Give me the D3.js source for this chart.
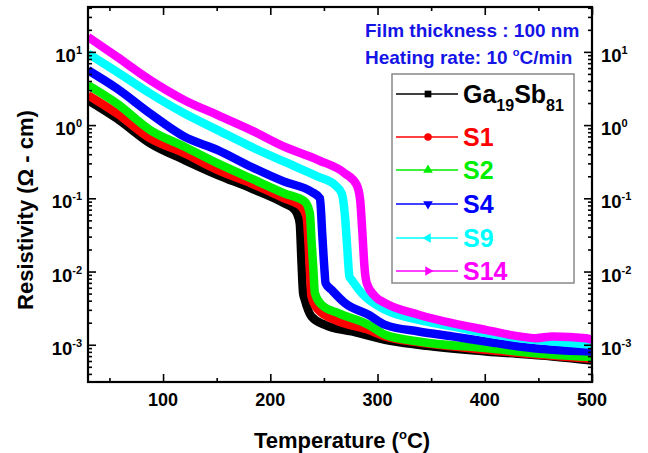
<!DOCTYPE html>
<html>
<head>
<meta charset="utf-8">
<script src="https://cdn.jsdelivr.net/npm/d3@7"></script>
<style>
  body { margin: 0; background: #fff; }
  svg { font-family: "Liberation Sans", Arial, sans-serif; font-weight: bold; }
</style>
</head>
<body>
<svg width="648" height="453"></svg>
<script>
// temperature (C) and resistivity (ohm-cm)
var tGa  = [30, 57, 88, 120, 151, 182, 213, 223, 226, 227.5, 229, 230.6, 232.2, 238.4, 250.9, 276, 307, 338, 401, 463, 500];
var rGa  = [2.19, 1.23, 0.562, 0.333, 0.208, 0.137, 0.0855, 0.0693, 0.0562, 0.045, 0.0145, 0.00507, 0.00411, 0.00243, 0.00187, 0.00152, 0.00117, 0.00100, 0.000811, 0.000693, 0.000611];

var tS1  = [30, 57, 88, 120, 151, 182, 213, 229, 233.8, 235.3, 237, 238.4, 244.7, 260.3, 291.6, 307, 338, 401, 463, 500];
var rS1  = [2.56, 1.44, 0.658, 0.411, 0.243, 0.160, 0.100, 0.0770, 0.0562, 0.030, 0.010, 0.00456, 0.00300, 0.00219, 0.00160, 0.00130, 0.00108, 0.000855, 0.000708, 0.000644];

var tS2  = [30, 57, 88, 120, 151, 182, 213, 232.2, 236.9, 238.4, 240, 241.6, 247.8, 263.4, 291.6, 307.2, 338.4, 400.9, 463.4, 500];
var rS2  = [3.51, 1.97, 0.855, 0.507, 0.300, 0.187, 0.117, 0.0901, 0.0624, 0.027, 0.0117, 0.00507, 0.00351, 0.00270, 0.00187, 0.00137, 0.00111, 0.000901, 0.000731, 0.000679];

var tS4  = [30, 57, 88, 120, 151, 182, 213, 238.4, 246.3, 248.4, 250.3, 251.6, 257.2, 269.7, 291.6, 307.2, 338.4, 369.7, 400.9, 432.2, 463.4, 500];
var rS4  = [5.62, 3.16, 1.44, 0.693, 0.456, 0.270, 0.169, 0.123, 0.100, 0.0333, 0.0117, 0.00693, 0.00562, 0.00370, 0.00257, 0.00187, 0.00152, 0.00130, 0.00111, 0.000949, 0.000855, 0.000811];

var tS9  = [30, 57, 88, 120, 151, 182, 213, 244.7, 260.3, 266.6, 269.7, 271.9, 273.8, 275.9, 285.3, 307.2, 338.4, 369.7, 400.9, 432.2, 463.4, 500];
var rS9  = [9.49, 5.34, 2.70, 1.44, 0.855, 0.507, 0.316, 0.197, 0.152, 0.117, 0.0562, 0.0197, 0.00855, 0.0077, 0.00507, 0.00300, 0.00219, 0.00178, 0.00144, 0.00123, 0.00111, 0.00100];

var tS14 = [30, 57, 88, 120, 151, 182, 213, 244.7, 269.7, 280.6, 283.8, 285.9, 287.8, 290, 297.8, 307.2, 338.4, 369.7, 400.9, 432.2, 447.8, 463.4, 494.7, 500];
var rS14 = [16.0, 8.55, 4.11, 2.19, 1.37, 0.855, 0.507, 0.333, 0.219, 0.152, 0.0949, 0.0333, 0.0117, 0.00693, 0.00456, 0.00370, 0.00257, 0.00197, 0.00160, 0.00130, 0.00123, 0.00130, 0.00123, 0.00117];

var names   = ["Ga19Sb81", "S1", "S2", "S4", "S9", "S14"];
var colors  = ["#000000", "#ff0000", "#00ee00", "#0000ff", "#00ffff", "#ff00ff"];
var xTicks  = [100, 200, 300, 400, 500];
var yTicks  = [1e-3, 1e-2, 1e-1, 1, 10];
var yExps   = ["-3", "-2", "-1", "0", "1"];

var series = [
  {t: tGa, r: rGa}, {t: tS1, r: rS1}, {t: tS2, r: rS2},
  {t: tS4, r: rS4}, {t: tS9, r: rS9}, {t: tS14, r: rS14}
].map(function(s, i) {
  return {name: names[i], color: colors[i], pts: s.t.map(function(t, j) { return [t, s.r[j]]; })};
});

var svg = d3.select("svg"),
    margin = {top: 7, left: 88},
    width = 504,
    height = 375,
    g = svg.append("g").attr("transform", "translate(" + margin.left + "," + margin.top + ")");

var x = d3.scaleLinear().domain([30, 500]).range([0, width]);
var y = d3.scaleLog().domain([3.1e-4, 41]).range([height, 0]);

var line = d3.line()
    .x(function(d) { return x(d[0]); })
    .y(function(d) { return y(d[1]); })
    .curve(d3.curveMonotoneX);

g.append("defs").append("clipPath")
    .attr("id", "clip")
  .append("rect")
    .attr("width", width)
    .attr("height", height);

g.append("g")
    .attr("clip-path", "url(#clip)")
  .selectAll("path")
  .data(series)
  .enter().append("path")
    .attr("d", function(d) { return line(d.pts); })
    .attr("fill", "none")
    .attr("stroke", function(d) { return d.color; })
    .attr("stroke-width", 8.5)
    .attr("stroke-linejoin", "round");

// minor ticks
var yMinor = [];
for (var e = -4; e <= 1; e++) {
  for (var m = 2; m <= 9; m++) {
    var v = m * Math.pow(10, e);
    if (v > 3.1e-4 && v < 41) yMinor.push(v);
  }
}
var xMinor = [50, 150, 250, 350, 450];

function styleAxis(sel) {
  sel.select(".domain").remove();
  sel.selectAll("line").attr("stroke", "#000").attr("stroke-width", 1.6);
  sel.selectAll("text").remove();
}

g.append("g").attr("transform", "translate(0," + height + ")")
    .call(d3.axisBottom(x).tickValues(xTicks).tickSize(-8)).call(styleAxis);
g.append("g").attr("transform", "translate(0," + height + ")")
    .call(d3.axisBottom(x).tickValues(xMinor).tickSize(-4)).call(styleAxis);
g.append("g")
    .call(d3.axisTop(x).tickValues(xTicks).tickSize(-8)).call(styleAxis);
g.append("g")
    .call(d3.axisTop(x).tickValues(xMinor).tickSize(-4)).call(styleAxis);
g.append("g")
    .call(d3.axisLeft(y).tickValues(yTicks).tickSize(-8)).call(styleAxis);
g.append("g")
    .call(d3.axisLeft(y).tickValues(yMinor).tickSize(-4)).call(styleAxis);
g.append("g").attr("transform", "translate(" + width + ",0)")
    .call(d3.axisRight(y).tickValues(yTicks).tickSize(-8)).call(styleAxis);
g.append("g").attr("transform", "translate(" + width + ",0)")
    .call(d3.axisRight(y).tickValues(yMinor).tickSize(-4)).call(styleAxis);

g.append("rect")
    .attr("width", width)
    .attr("height", height)
    .attr("fill", "none")
    .attr("stroke", "#000")
    .attr("stroke-width", 2.2);

// tick labels
g.selectAll(".xlab")
  .data(xTicks)
  .enter().append("text")
    .attr("x", function(d) { return x(d); })
    .attr("y", height + 24)
    .attr("text-anchor", "middle")
    .attr("font-size", 18)
    .text(function(d) { return d; });

function powLabel(sel, xpos, anchor) {
  sel.each(function(d, i) {
    var t = d3.select(this)
        .attr("x", xpos)
        .attr("y", y(d) + 10)
        .attr("text-anchor", anchor)
        .attr("font-size", 18.5);
    t.append("tspan").text("10");
    t.append("tspan").attr("dy", -8).attr("font-size", 11).text(yExps[i]);
  });
}
g.selectAll(".ylabL").data(yTicks).enter().append("text").call(powLabel, -6, "end");
g.selectAll(".ylabR").data(yTicks).enter().append("text").call(powLabel, width + 9, "start");

// axis titles
var xt = svg.append("text")
    .attr("x", 342)
    .attr("y", 448)
    .attr("text-anchor", "middle")
    .attr("font-size", 22);
xt.append("tspan").text("Temperature (");
xt.append("tspan").attr("dy", -9).attr("font-size", 13).text("o");
xt.append("tspan").attr("dy", 9).text("C)");

svg.append("text")
    .attr("transform", "translate(33,210) rotate(-90)")
    .attr("text-anchor", "middle")
    .attr("font-size", 22)
    .text("Resistivity (\u03A9 - cm)");

// annotation
svg.append("text")
    .attr("x", 365).attr("y", 37)
    .attr("fill", "#1414e6")
    .attr("font-size", 19)
    .text("Film thickness : 100 nm");
var ht = svg.append("text")
    .attr("x", 365).attr("y", 64)
    .attr("fill", "#1414e6")
    .attr("font-size", 19);
ht.append("tspan").text("Heating rate: 10 ");
ht.append("tspan").attr("dy", -8).attr("font-size", 11).text("o");
ht.append("tspan").attr("dy", 8).text("C/min");

// legend
var legend = svg.append("g");
legend.append("rect")
    .attr("x", 392).attr("y", 74)
    .attr("width", 182).attr("height", 209)
    .attr("fill", "#fff")
    .attr("stroke", "#888")
    .attr("stroke-width", 1.5);

var legY = [94, 137, 170, 204, 238, 271];
var symbols = [
  {type: d3.symbolSquare, rot: 0, size: 45},
  {type: d3.symbolCircle, rot: 0, size: 45},
  {type: d3.symbolTriangle, rot: 0, size: 40},
  {type: d3.symbolTriangle, rot: 180, size: 40},
  {type: d3.symbolTriangle, rot: -90, size: 40},
  {type: d3.symbolTriangle, rot: 90, size: 40}
];

var item = legend.selectAll(".item")
  .data(series)
  .enter().append("g")
    .attr("transform", function(d, i) { return "translate(0," + legY[i] + ")"; });

item.append("line")
    .attr("x1", 396).attr("x2", 458)
    .attr("stroke", function(d) { return d.color; })
    .attr("stroke-width", 1.6);

item.append("path")
    .attr("d", function(d, i) { return d3.symbol().type(symbols[i].type).size(symbols[i].size)(); })
    .attr("transform", function(d, i) { return "translate(428,0) rotate(" + symbols[i].rot + ")"; })
    .attr("fill", function(d) { return d.color; });

item.each(function(d, i) {
  var t = d3.select(this).append("text")
      .attr("x", 463).attr("y", 9)
      .attr("font-size", 25)
      .attr("fill", d.color);
  if (i === 0) {
    t.append("tspan").text("Ga");
    t.append("tspan").attr("dy", 8).attr("font-size", 16).text("19");
    t.append("tspan").attr("dy", -8).text("Sb");
    t.append("tspan").attr("dy", 8).attr("font-size", 16).text("81");
  } else {
    t.text(d.name);
  }
});
</script>
</body>
</html>
